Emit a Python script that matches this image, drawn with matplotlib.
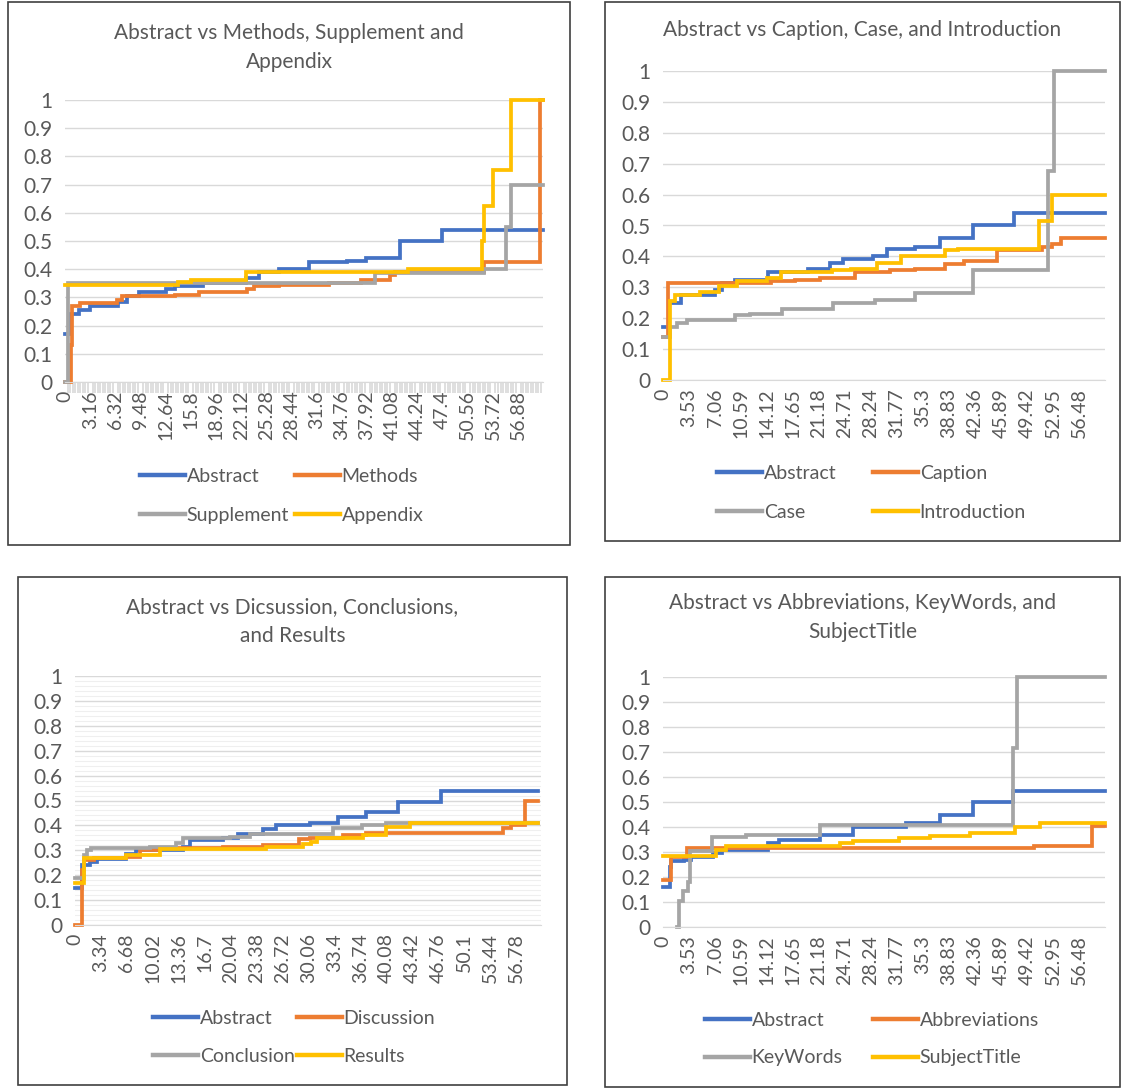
import matplotlib
matplotlib.use("Agg")
import matplotlib.pyplot as plt
from matplotlib.lines import Line2D
from matplotlib.patches import Rectangle

plt.rcParams['font.family'] = ['Lato', 'DejaVu Sans']

W, H = 1121, 1088
BLUE, ORANGE, GRAY, YELLOW = '#4472C4', '#ED7D31', '#A5A5A5', '#FFC000'
TXT = '#595959'

# ---- panel 1: Abstract vs Methods, Supplement and Appendix
p1_names = ['Abstract', 'Methods', 'Supplement', 'Appendix']
p1_abstract_x = [0, 0.5, 1.7, 3.2, 6.7, 7.8, 9.3, 12.7, 13.8, 17.3, 22.7, 24.4, 26.8, 30.6, 35.4, 37.8, 42.1, 47.3, 60]
p1_abstract_y = [0.17, 0.24, 0.255, 0.27, 0.285, 0.305, 0.32, 0.33, 0.34, 0.35, 0.37, 0.39, 0.40, 0.425, 0.43, 0.44, 0.50, 0.54, 0.54]
p1_methods_x = [0, 0.8, 0.9, 1.9, 6.5, 7.1, 13.8, 16.8, 22.9, 23.7, 26.8, 33.2, 37.1, 40.8, 41.4, 52.6, 59.6, 60]
p1_methods_y = [0, 0.13, 0.27, 0.28, 0.29, 0.305, 0.31, 0.32, 0.33, 0.34, 0.345, 0.35, 0.36, 0.38, 0.39, 0.425, 1.0, 1.0]
p1_supplement_x = [0, 0.4, 38.9, 52.6, 55.4, 56.0, 60]
p1_supplement_y = [0, 0.35, 0.385, 0.40, 0.55, 0.70, 0.70]
p1_appendix_x = [0, 14.2, 15.8, 22.7, 43.0, 52.4, 52.6, 53.7, 56.0, 60]
p1_appendix_y = [0.345, 0.355, 0.36, 0.39, 0.40, 0.50, 0.625, 0.75, 1.0, 1.0]
p1_step, p1_nlab = 3.16, 19

# ---- panel 2: Abstract vs Caption, Case, and Introduction
p2_names = ['Abstract', 'Caption', 'Case', 'Introduction']
p2_abstract_x = [0, 0.8, 2.5, 7.1, 8.0, 9.8, 14.3, 19.7, 22.7, 24.5, 28.5, 30.4, 34.2, 37.6, 42.1, 47.6, 60]
p2_abstract_y = [0.17, 0.25, 0.275, 0.29, 0.315, 0.325, 0.35, 0.36, 0.38, 0.39, 0.40, 0.425, 0.43, 0.46, 0.50, 0.54, 0.54]
p2_caption_x = [0, 0.7, 14.7, 17.9, 21.3, 26.0, 30.8, 34.2, 38.3, 40.8, 45.3, 51.4, 52.8, 54.0, 60]
p2_caption_y = [0.14, 0.315, 0.32, 0.325, 0.33, 0.35, 0.355, 0.36, 0.375, 0.385, 0.42, 0.43, 0.44, 0.46, 0.46]
p2_case_x = [0, 0.9, 1.9, 3.2, 9.8, 11.8, 16.1, 23.1, 28.8, 34.2, 42.1, 52.2, 53.1, 60]
p2_case_y = [0.14, 0.17, 0.185, 0.195, 0.21, 0.215, 0.23, 0.25, 0.26, 0.28, 0.355, 0.675, 1.0, 1.0]
p2_intro_x = [0, 0.9, 1.6, 5.0, 7.6, 10.1, 14.1, 16.0, 23.0, 25.5, 29.0, 32.3, 38.3, 40.0, 51.0, 52.8, 60]
p2_intro_y = [0, 0.255, 0.275, 0.285, 0.305, 0.32, 0.33, 0.35, 0.355, 0.36, 0.38, 0.40, 0.42, 0.425, 0.515, 0.60, 0.60]
p2_step, p2_nlab = 3.53, 17

# ---- panel 3: Abstract vs Dicsussion, Conclusions, and Results
p3_names = ['Abstract', 'Discussion', 'Conclusion', 'Results']
p3_abstract_x = [0, 0.9, 1.9, 2.8, 6.6, 7.9, 13.9, 14.8, 19.1, 21.0, 24.2, 25.9, 30.2, 33.9, 37.5, 41.6, 47.1, 59.6]
p3_abstract_y = [0.15, 0.24, 0.255, 0.265, 0.285, 0.30, 0.315, 0.34, 0.35, 0.365, 0.385, 0.40, 0.41, 0.435, 0.455, 0.495, 0.54, 0.54]
p3_discussion_x = [0, 0.9, 1.1, 2.4, 6.6, 8.4, 10.9, 19.1, 24.2, 28.9, 30.2, 34.5, 37.5, 55.1, 56.1, 57.9, 59.6]
p3_discussion_y = [0, 0.22, 0.26, 0.27, 0.275, 0.30, 0.31, 0.315, 0.32, 0.345, 0.35, 0.36, 0.37, 0.39, 0.40, 0.50, 0.50]
p3_conclusion_x = [0, 1.1, 1.5, 2.1, 9.6, 13.0, 13.9, 19.9, 22.5, 33.2, 36.9, 40.1, 59.6]
p3_conclusion_y = [0.19, 0.28, 0.30, 0.31, 0.315, 0.33, 0.35, 0.355, 0.365, 0.39, 0.40, 0.41, 0.41]
p3_results_x = [0, 1.1, 6.6, 10.9, 24.6, 29.4, 30.4, 31.1, 37.1, 40.1, 43.1, 59.6]
p3_results_y = [0.17, 0.27, 0.28, 0.305, 0.315, 0.325, 0.335, 0.35, 0.36, 0.395, 0.41, 0.41]
p3_step, p3_nlab = 3.34, 18

# ---- panel 4: Abstract vs Abbreviations, KeyWords, and SubjectTitle
p4_names = ['Abstract', 'Abbreviations', 'KeyWords', 'SubjectTitle']
p4_abstract_x = [0, 0.9, 1.1, 2.9, 3.8, 6.8, 8.0, 14.3, 15.8, 21.3, 25.8, 33.0, 37.6, 42.1, 47.5, 60]
p4_abstract_y = [0.16, 0.24, 0.265, 0.27, 0.28, 0.295, 0.31, 0.335, 0.35, 0.37, 0.40, 0.415, 0.45, 0.50, 0.545, 0.545]
p4_abbrev_x = [0, 1.1, 3.2, 50.3, 58.2, 60]
p4_abbrev_y = [0.19, 0.28, 0.315, 0.325, 0.405, 0.405]
p4_keywords_x = [1.9, 2.2, 2.7, 3.4, 3.6, 6.6, 11.3, 21.3, 47.5, 48.0, 60]
p4_keywords_y = [0, 0.105, 0.145, 0.18, 0.305, 0.36, 0.37, 0.41, 0.715, 1.0, 1.0]
p4_subject_x = [0, 7.2, 8.6, 24.0, 25.8, 32.1, 36.2, 41.7, 47.8, 51.2, 60]
p4_subject_y = [0.285, 0.31, 0.325, 0.335, 0.345, 0.355, 0.365, 0.375, 0.40, 0.415, 0.415]
p4_step, p4_nlab = 3.53, 17

fig = plt.figure(figsize=(W / 100, H / 100), dpi=100)


def px_axes(l, t, r, b):
    return fig.add_axes([l / W, 1 - b / H, (r - l) / W, (b - t) / H])


def border(l, t, r, b):
    fig.patches.append(Rectangle((l / W, 1 - b / H), (r - l) / W, (b - t) / H,
                                 transform=fig.transFigure, fill=False,
                                 edgecolor='#404040', lw=1.2))


def panel(box, frame, title_lines, title_y, series, names, step, nlab,
          leg_x, leg_y, dense_ticks=False, minor_grid=False):
    border(*frame)
    ax = px_axes(*box)
    colors = [BLUE, ORANGE, GRAY, YELLOW]
    for (xs, ys), c in zip(series, colors):
        ax.plot(xs, ys, drawstyle='steps-post', color=c, lw=2.7,
                clip_on=False, solid_joinstyle='miter')
    ax.set_xlim(0, 60)
    ax.set_ylim(0, 1)
    ax.set_yticks([i / 10 for i in range(11)])
    ax.set_yticklabels(['0', '0.1', '0.2', '0.3', '0.4', '0.5', '0.6', '0.7', '0.8', '0.9', '1'])
    ticks = [round(k * step, 2) for k in range(nlab)]
    ax.set_xticks(ticks)
    ax.set_xticklabels(['{:g}'.format(t) for t in ticks], rotation=90)
    ax.tick_params(axis='y', length=0, labelsize=15, labelcolor=TXT, pad=9)
    ax.tick_params(axis='x', length=0, labelsize=14, labelcolor=TXT, pad=6)
    ax.grid(axis='y', color='#d9d9d9', lw=1.0)
    if minor_grid:
        ax.set_yticks([i / 50 for i in range(51)], minor=True)
        ax.tick_params(axis='y', which='minor', length=0)
        ax.grid(axis='y', which='minor', color='#efefef', lw=0.8)
    if dense_ticks:
        ax.set_xticks([k * 0.316 for k in range(190)], minor=True)
        ax.tick_params(axis='x', which='minor', length=8, width=1.2,
                       color='#d9d9d9', direction='out')
    ax.set_axisbelow(True)
    for s in ['top', 'right', 'left']:
        ax.spines[s].set_visible(False)
    ax.spines['bottom'].set_color('#d9d9d9')
    cx = (frame[0] + frame[2]) / 2
    for i, line in enumerate(title_lines):
        fig.text(cx / W, 1 - (title_y + i * 29) / H, line, ha='center',
                 va='center', fontsize=15, color=TXT)
    # legend, two columns by two rows
    for i, (c, n) in enumerate(zip(colors, names)):
        lx = leg_x[i % 2]
        ly = leg_y[i // 2]
        fig.legend([Line2D([], [], color=c, lw=3.2)], [n],
                   loc='center left', bbox_to_anchor=(lx / W, 1 - ly / H),
                   bbox_transform=fig.transFigure, frameon=False,
                   handlelength=2.3, handletextpad=0.1, borderpad=0,
                   borderaxespad=0, fontsize=14, labelcolor=TXT)
    return ax


panel((65, 100, 543, 382), (8, 2, 570, 545),
      ['Abstract vs Methods, Supplement and', 'Appendix'], 33,
      [(p1_abstract_x, p1_abstract_y), (p1_methods_x, p1_methods_y),
       (p1_supplement_x, p1_supplement_y), (p1_appendix_x, p1_appendix_y)],
      p1_names, p1_step, p1_nlab, (140, 295), (476, 515), dense_ticks=True)

panel((663, 71, 1105, 380), (605, 2, 1120, 541),
      ['Abstract vs Caption, Case, and Introduction'], 30,
      [(p2_abstract_x, p2_abstract_y), (p2_caption_x, p2_caption_y),
       (p2_case_x, p2_case_y), (p2_intro_x, p2_intro_y)],
      p2_names, p2_step, p2_nlab, (717, 873), (473, 512))

panel((75, 676, 541, 925), (18, 577, 567, 1085),
      ['Abstract vs Dicsussion, Conclusions,', 'and Results'], 607,
      [(p3_abstract_x, p3_abstract_y), (p3_discussion_x, p3_discussion_y),
       (p3_conclusion_x, p3_conclusion_y), (p3_results_x, p3_results_y)],
      p3_names, p3_step, p3_nlab, (153, 297), (1018, 1056), minor_grid=True)

panel((663, 677, 1105, 927), (605, 577, 1120, 1087),
      ['Abstract vs Abbreviations, KeyWords, and', 'SubjectTitle'], 603,
      [(p4_abstract_x, p4_abstract_y), (p4_abbrev_x, p4_abbrev_y),
       (p4_keywords_x, p4_keywords_y), (p4_subject_x, p4_subject_y)],
      p4_names, p4_step, p4_nlab, (705, 873), (1020, 1058))

fig.savefig('out.png', dpi=100, facecolor='white')
